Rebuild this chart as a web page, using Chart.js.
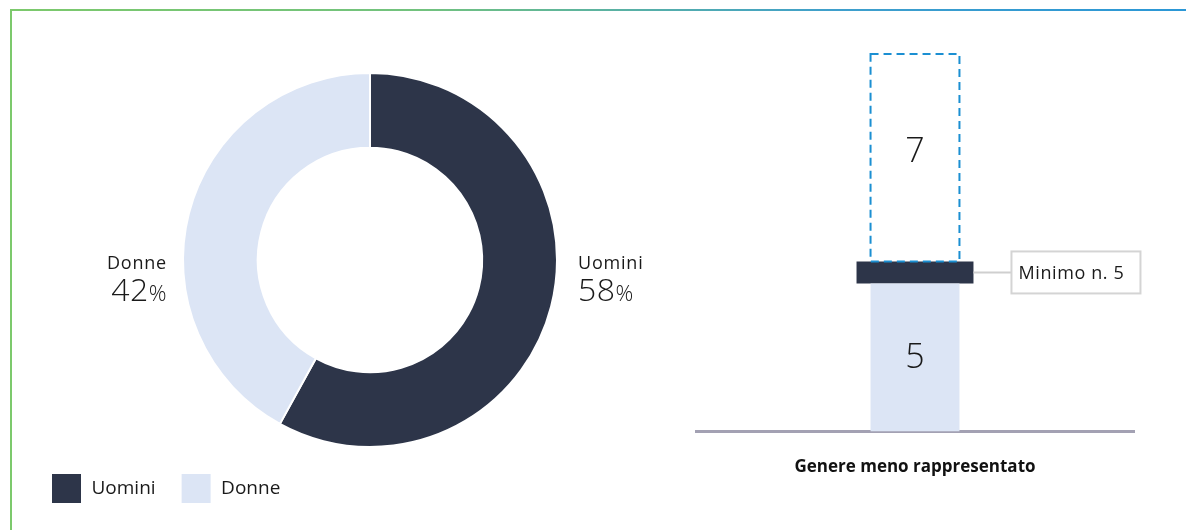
<!DOCTYPE html>
<html lang="it">
<head>
<meta charset="utf-8">
<title>Composizione per genere</title>
<script src="https://cdn.jsdelivr.net/npm/chart.js@4.4.1/dist/chart.umd.min.js"></script>
<style>
    html, body { margin: 0; padding: 0; background: #fff; }
    body { width: 1186px; height: 530px; position: relative; overflow: hidden; font-family: 'Open Sans', sans-serif; }
    .cornice-top { position: absolute; left: 10px; top: 9px; width: 1176px; height: 2px;
        background: linear-gradient(90deg, #7cc96c 0%, #72c27e 35%, #3f9fcc 70%, #2b97d6 100%); }
    .cornice-left { position: absolute; left: 10px; top: 9px; width: 2px; height: 521px; background: #7cc96c; }
    #torta { position: absolute; left: 0; top: 0; }
    #barre { position: absolute; left: 680px; top: 0; }
</style>
</head>
<body>
<div class="cornice-top"></div>
<div class="cornice-left"></div>
<canvas id="torta" width="740" height="530"></canvas>
<canvas id="barre" width="506" height="530"></canvas>

<script>
// Composizione del consiglio per genere
const generi = ['Uomini', 'Donne'];
const percentuali = [58, 42];
const coloriGeneri = ['#2d3549', '#dce5f5'];

// Genere meno rappresentato rispetto al minimo richiesto
const categorie = ['Genere meno rappresentato'];
const donne = [5];
const uomini = [7];
const minimo = [5];

const FONT = "'Open Sans', sans-serif";
const SPESSORE_MINIMO = 0.74; // altezza della barra del minimo, in unità dell'asse

// etichette esterne della ciambella (nome + percentuale)
const etichetteTorta = {
    id: 'etichetteTorta',
    afterDraw(chart) {
        const ctx = chart.ctx;
        const arc = chart.getDatasetMeta(0).data[0];
        const cx = arc.x, cy = arc.y, r = arc.outerRadius;
        const valori = chart.data.datasets[0].data;

        const disegna = (nome, valore, x, allinea) => {
            ctx.save();
            ctx.fillStyle = '#1a1a1a';
            ctx.textBaseline = 'middle';
            ctx.font = `400 18px ${FONT}`;
            ctx.letterSpacing = '0.8px';
            ctx.textAlign = allinea;
            ctx.fillText(nome, x, cy + 4);

            ctx.letterSpacing = '0.5px';
            ctx.font = `300 32px ${FONT}`;
            const wNum = ctx.measureText(String(valore)).width;
            ctx.font = `300 22px ${FONT}`;
            const wPerc = ctx.measureText('%').width;
            const x0 = allinea === 'left' ? x : x - wNum - wPerc;
            ctx.textAlign = 'left';
            ctx.textBaseline = 'alphabetic';
            ctx.font = `300 32px ${FONT}`;
            ctx.fillText(String(valore), x0, cy + 41);
            ctx.font = `300 22px ${FONT}`;
            ctx.fillText('%', x0 + wNum, cy + 41);
            ctx.restore();
        };

        disegna(chart.data.labels[0], valori[0], cx + r + 21, 'left');
        disegna(chart.data.labels[1], valori[1], cx - r - 16, 'right');
    }
};

new Chart(document.getElementById('torta'), {
    type: 'doughnut',
    data: {
        labels: generi,
        datasets: [{
            data: percentuali,
            backgroundColor: coloriGeneri,
            borderColor: '#ffffff',
            borderWidth: 2,
            hoverOffset: 0
        }]
    },
    options: {
        responsive: false,
        animation: false,
        cutout: '60%',
        layout: { padding: { top: 72, left: 26, right: 26, bottom: 16 } },
        plugins: {
            legend: {
                position: 'bottom',
                align: 'start',
                labels: {
                    boxWidth: 31,
                    boxHeight: 31,
                    padding: 25,
                    color: '#1a1a1a',
                    font: { size: 19, family: FONT, weight: '400' }
                }
            },
            tooltip: { enabled: false }
        }
    },
    plugins: [etichetteTorta]
});

// riquadro tratteggiato, valori nelle barre e richiamo del minimo
const decorazioniBarre = {
    id: 'decorazioniBarre',
    afterDatasetsDraw(chart) {
        const ctx = chart.ctx;
        const barDonne = chart.getDatasetMeta(0).data[0];
        const barMin = chart.getDatasetMeta(1).data[0];
        const barUomini = chart.getDatasetMeta(2).data[0];

        ctx.save();
        // barra tratteggiata del genere più rappresentato
        ctx.strokeStyle = '#1b8fd2';
        ctx.lineWidth = 2;
        ctx.setLineDash([8, 5]);
        ctx.strokeRect(barUomini.x - barUomini.width / 2, barUomini.y,
            barUomini.width, barUomini.base - barUomini.y);
        ctx.setLineDash([]);

        // valori
        ctx.fillStyle = '#1a1a1a';
        ctx.font = `300 34px ${FONT}`;
        ctx.textAlign = 'center';
        ctx.textBaseline = 'middle';
        ctx.fillText(String(uomini[0]), barUomini.x, (barUomini.y + barUomini.base) / 2 - 5);
        ctx.fillText(String(donne[0]), barDonne.x, (barDonne.y + barDonne.base) / 2 + 1);

        // richiamo "Minimo n. 5"
        const yMin = (barMin.y + barMin.base) / 2;
        const xDx = barMin.x + barMin.width / 2;
        ctx.strokeStyle = '#cfcfcf';
        ctx.lineWidth = 2;
        ctx.beginPath();
        ctx.moveTo(xDx, yMin);
        ctx.lineTo(xDx + 38, yMin);
        ctx.stroke();
        ctx.strokeStyle = '#d4d4d4';
        ctx.strokeRect(xDx + 38, yMin - 21, 129, 42);
        ctx.font = `400 18px ${FONT}`;
        ctx.letterSpacing = '0.6px';
        ctx.textAlign = 'left';
        ctx.fillText('Minimo n. ' + minimo[0], xDx + 45, yMin + 1);
        ctx.restore();
    }
};

new Chart(document.getElementById('barre'), {
    type: 'bar',
    data: {
        labels: categorie,
        datasets: [
            {
                label: 'Donne',
                data: donne.map(v => [0, v]),
                backgroundColor: '#dce5f5',
                barPercentage: 0.203,
                categoryPercentage: 1,
                grouped: false
            },
            {
                label: 'Minimo',
                data: minimo.map(v => [v, v + SPESSORE_MINIMO]),
                backgroundColor: '#2d3549',
                barPercentage: 0.267,
                categoryPercentage: 1,
                grouped: false
            },
            {
                label: 'Uomini',
                data: uomini.map((v, i) => [minimo[i] + SPESSORE_MINIMO, minimo[i] + SPESSORE_MINIMO + v]),
                backgroundColor: 'rgba(0,0,0,0)',
                barPercentage: 0.203,
                categoryPercentage: 1,
                grouped: false
            }
        ]
    },
    options: {
        responsive: false,
        animation: false,
        layout: { padding: { top: 54, left: 16, right: 52, bottom: 28 } },
        scales: {
            x: {
                grid: { display: false, drawTicks: false },
                border: { display: true, color: '#a3a1b3', width: 3 },
                ticks: {
                    color: '#111',
                    padding: 25,
                    font: { size: 17, family: FONT, weight: 'bold' }
                }
            },
            y: {
                display: false,
                min: 0,
                max: minimo[0] + SPESSORE_MINIMO + uomini[0]
            }
        },
        plugins: {
            legend: { display: false },
            tooltip: { enabled: false }
        }
    },
    plugins: [decorazioniBarre]
});
</script>
</body>
</html>
